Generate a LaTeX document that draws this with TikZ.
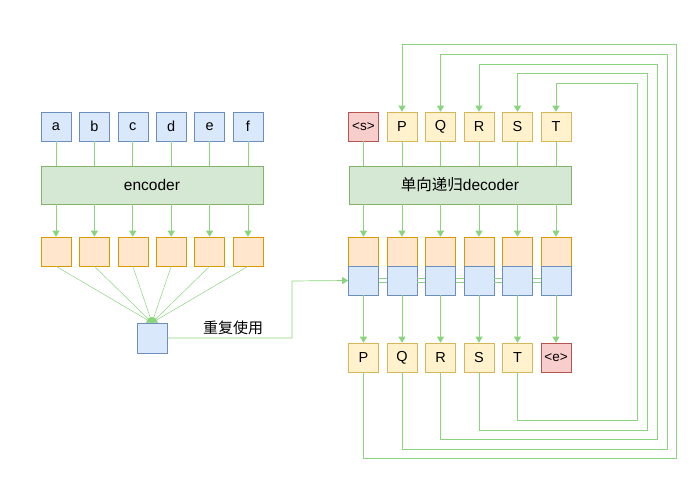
\documentclass[tikz,border=0pt]{standalone}
\usepackage{fontspec}
\setmainfont{Liberation Sans}
\newfontfamily\cjk{Noto Sans CJK SC}
\usetikzlibrary{arrows.meta}
\definecolor{ln}{RGB}{138,212,126}
\definecolor{bluef}{HTML}{DAE8FC}\definecolor{blued}{HTML}{6C8EBF}
\definecolor{orf}{HTML}{FFE6CC}\definecolor{ord}{HTML}{D79B00}
\definecolor{yef}{HTML}{FFF2CC}\definecolor{yed}{HTML}{D6B656}
\definecolor{ref}{HTML}{F8CECC}\definecolor{red2}{HTML}{B85450}
\definecolor{grf}{HTML}{D5E8D4}\definecolor{grd}{HTML}{82B366}
\tikzset{
  box/.style={draw, line width=0.6pt, minimum width=30pt, minimum height=29pt, inner sep=0pt, font=\fontsize{14.5}{16}\selectfont},
  bluebox/.style={box, fill=bluef, draw=blued},
  orbox/.style={box, fill=orf, draw=ord},
  yebox/.style={box, fill=yef, draw=yed},
  rebox/.style={box, fill=ref, draw=red2, font=\fontsize{13.5}{15}\selectfont},
  bigbox/.style={draw=grd, fill=grf, line width=0.6pt, minimum width=222pt, minimum height=38pt, inner sep=0pt, font=\fontsize{15.5}{17}\selectfont},
  con/.style={draw=ln, line width=0.7pt},
  arr/.style={con, -{Triangle[width=7pt,length=6pt]}},
  thin/.style={draw=ln, line width=0.5pt, -{Triangle[width=6pt,length=5pt]}},
  dbl/.style={draw=ln, line width=0.8pt}
}
\begin{document}
\begin{tikzpicture}[x=1pt,y=-1pt]
\useasboundingbox (0,0) rectangle (693,478);
% left
\foreach \t [count=\i from 0] in {a,b,c,d,e,f} {
  \node[bluebox] (in\i) at ({56+38.4*\i},126.5) {\t};
  \node[orbox] (eo\i) at ({56+38.4*\i},251.5) {};
}
\node[bigbox] (enc) at (152,185) {encoder};
\node[bluebox, minimum height=30pt] (ctx) at (152,338) {};
\foreach \i in {0,...,5} {
  \draw[con] (in\i.south) -- (in\i.south |- enc.north);
  \draw[arr] (in\i.south |- enc.south) -- (eo\i.north);
  \draw[thin] (eo\i.south) -- (ctx.north);
}
\node[font=\cjk\fontsize{15}{17}\selectfont] (reuse) at (233,328) {重复使用};
% right
\node[rebox] (di0) at (363.5,126.5) {<s>};
\foreach \t [count=\i from 1] in {P,Q,R,S,T} {
  \node[yebox] (di\i) at ({363.5+38.5*\i},126.5) {\t};
}
\node[bigbox] (dec) at (460,185) {{\cjk 单向递归}decoder};
\foreach \i in {0,...,5} {
  \node[orbox] (co\i) at ({363.5+38.5*\i},251.5) {};
  \node[bluebox] (cb\i) at ({363.5+38.5*\i},280.5) {};
  \draw[con] (di\i.south) -- (di\i.south |- dec.north);
  \draw[arr] (di\i.south |- dec.south) -- (co\i.north);
}
\foreach \t [count=\i from 0] in {P,Q,R,S,T} {
  \node[yebox] (do\i) at ({363.5+38.5*\i},357.5) {\t};
}
\node[rebox] (do5) at (556,357.5) {<e>};
\foreach \i in {0,...,5} {
  \draw[arr] (cb\i.south) -- (do\i.north);
}
\foreach \i [evaluate=\i as \j using int(\i+1)] in {0,...,4} {
  \draw[dbl] ([yshift=-2pt]cb\i.east) -- ([yshift=-2pt]cb\j.west);
  \draw[dbl] ([yshift=2pt]cb\i.east) -- ([yshift=2pt]cb\j.west);
}
% context to decoder
\coordinate (k1) at (292,338);
\coordinate (k2) at (292,281);
\draw[arr] (ctx.east) -- (k1) -- (k2) -- (cb0.west);
% feedback loops
\foreach \i/\yb/\xr/\yt in {0/458/676/44, 1/449/667/54, 2/439/657/64, 3/430/647/73, 4/420/637/83} {
  \pgfmathtruncatemacro{\j}{\i+1}
  \draw[arr] (do\i.south) |- (\xr,\yb) -- (\xr,\yt) -| (di\j.north);
}
\end{tikzpicture}
\end{document}
